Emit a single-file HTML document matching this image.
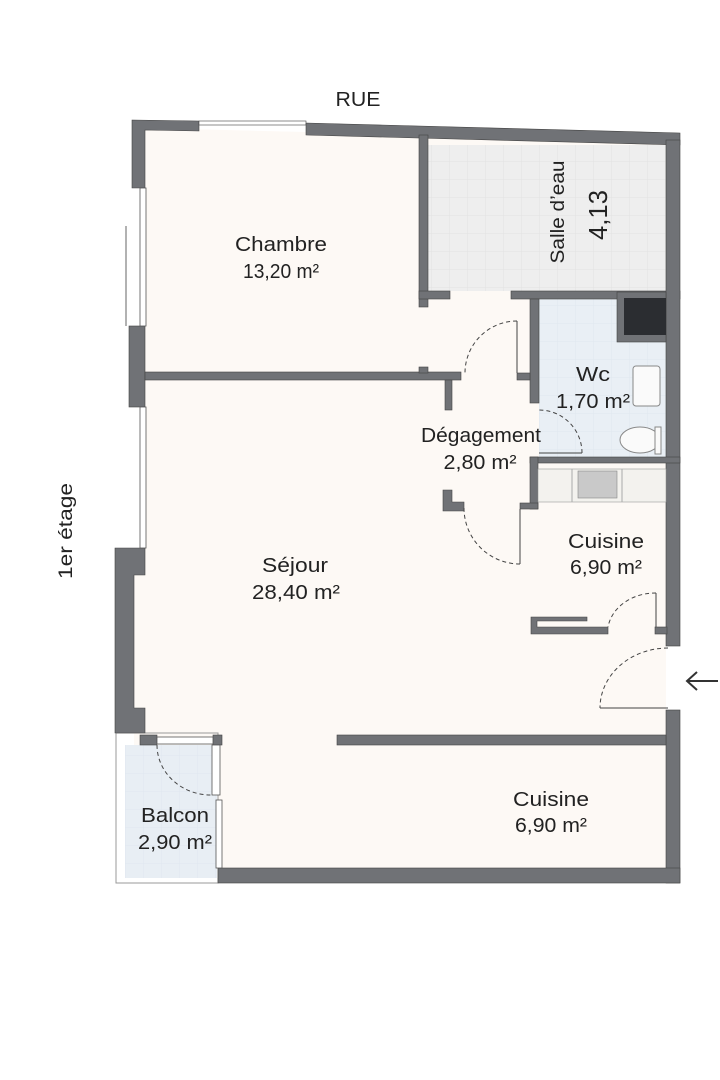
<!DOCTYPE html>
<html><head><meta charset="utf-8"><style>
html,body{margin:0;padding:0;background:#fff}
svg{display:block}
text{font-family:"Liberation Sans","DejaVu Sans",sans-serif;fill:#222}
</style></head><body>
<svg width="720" height="1080" viewBox="0 0 720 1080">
<defs>
<pattern id="g" width="18" height="18" patternUnits="userSpaceOnUse"><path d="M18 0V18H0" fill="none" stroke="#e2e2e2" stroke-width="1"/></pattern>
<pattern id="gb" width="18" height="18" patternUnits="userSpaceOnUse"><path d="M18 0V18H0" fill="none" stroke="#dfe7ef" stroke-width="1"/></pattern>
</defs>
<polygon points="145,128 666,141 666,868 218,868 218,745 134,745 134,575 145,575" fill="#fdf9f5"/>
<rect x="428" y="145" width="238" height="146" fill="#eeeeee"/>
<rect x="428" y="145" width="238" height="146" fill="url(#g)"/>
<rect x="539" y="299" width="127" height="158" fill="#e9eff5"/>
<rect x="539" y="299" width="127" height="158" fill="url(#gb)"/>
<rect x="125" y="745" width="92" height="133" fill="#e8eef4"/>
<rect x="125" y="745" width="92" height="133" fill="url(#gb)"/>
<rect x="116" y="733" width="102" height="150" fill="none" stroke="#999" stroke-width="1"/>
<g fill="#707276" stroke="#444" stroke-width="0.6">
<polygon points="132,120 199,121 199,131 145,130 145,188 132,188"/>
<rect x="199" y="121" width="107" height="4" fill="#fff"/>
<polygon points="306,123 680,133 680,145 306,135"/>
<rect x="129" y="326" width="16" height="81"/>
<polygon points="115,548 145,548 145,575 134,575 134,708 145,708 145,733 115,733"/>
<rect x="145" y="372" width="316" height="8"/>
<rect x="419" y="367" width="9" height="6"/>
<rect x="445" y="380" width="7" height="30"/>
<rect x="419" y="135" width="9" height="172"/>
<rect x="419" y="291" width="31" height="8"/>
<rect x="511" y="291" width="169" height="8"/>
<rect x="666" y="140" width="14" height="506"/>
<rect x="666" y="710" width="14" height="173"/>
<rect x="530" y="299" width="9" height="104"/>
<rect x="517" y="373" width="13" height="7"/>
<rect x="530" y="457" width="150" height="6"/>
<rect x="530" y="457" width="8" height="52"/>
<rect x="520" y="503" width="18" height="6"/>
<rect x="617" y="292" width="49" height="50"/>
<polygon points="443,490 452,490 452,502 464,502 464,511 443,511"/>
<polygon points="531,617 587,617 587,621 537,621 537,627 608,627 608,634 531,634"/>
<rect x="655" y="627" width="12" height="7"/>
<rect x="337" y="735" width="329" height="10"/>
<rect x="218" y="868" width="462" height="15"/>
<rect x="140" y="735" width="17" height="10"/>
<rect x="213" y="735" width="9" height="10"/>
</g>
<rect x="624" y="298" width="42" height="37" fill="#2b2d31"/>
<g fill="#fff" stroke="#555" stroke-width="0.8">
<rect x="140" y="188" width="6" height="138"/>
<rect x="140" y="407" width="6" height="141"/>
<rect x="157" y="737" width="56" height="7"/>
<rect x="212" y="745" width="8" height="50"/>
<rect x="216" y="800" width="6" height="68"/>
</g>
<line x1="126" y1="226" x2="126" y2="326" stroke="#666" stroke-width="1"/>
<rect x="538" y="469" width="128" height="33" fill="#f3f2ee" stroke="#999" stroke-width="0.6"/>
<rect x="578" y="471" width="39" height="27" fill="#c9c9c9" stroke="#888" stroke-width="0.6"/>
<line x1="572" y1="469" x2="572" y2="502" stroke="#aaa"/><line x1="622" y1="469" x2="622" y2="502" stroke="#aaa"/>
<rect x="633" y="366" width="27" height="40" rx="3" fill="#fafafa" stroke="#888"/>
<ellipse cx="640" cy="440" rx="20" ry="13" fill="#fafafa" stroke="#888"/>
<rect x="655" y="427" width="6" height="27" fill="#fafafa" stroke="#888"/>
<g fill="none" stroke="#444" stroke-width="1">
<line x1="517" y1="321" x2="517" y2="373"/>
<path d="M517 321 A52 52 0 0 0 465 373" stroke-dasharray="4 3"/>
<line x1="539" y1="453" x2="582" y2="453"/>
<path d="M582 453 A43 43 0 0 0 539 410" stroke-dasharray="4 3"/>
<line x1="520" y1="509" x2="520" y2="564"/>
<path d="M520 564 A56 56 0 0 1 464 508" stroke-dasharray="4 3"/>
<line x1="656" y1="593" x2="656" y2="627"/>
<path d="M656 593 A48 40 0 0 0 608 627" stroke-dasharray="4 3"/>
<line x1="600" y1="708" x2="668" y2="708"/>
<path d="M668 648 A68 60 0 0 0 600 708" stroke-dasharray="4 3"/>
<path d="M157 745 A54 50 0 0 0 211 795" stroke-dasharray="4 3"/>
</g>
<g stroke="#333" stroke-width="2" fill="none"><line x1="687" y1="681" x2="718" y2="681"/><polyline points="697,672 687,681 697,690"/></g>
<g font-size="20" text-anchor="middle">
<text x="358" y="106" textLength="45" lengthAdjust="spacingAndGlyphs">RUE</text>
<text x="281" y="251" textLength="92" lengthAdjust="spacingAndGlyphs">Chambre</text><text x="281" y="278" textLength="76" lengthAdjust="spacingAndGlyphs">13,20 m²</text>
<text x="481" y="442" textLength="120" lengthAdjust="spacingAndGlyphs">Dégagement</text><text x="480" y="469" textLength="73" lengthAdjust="spacingAndGlyphs">2,80 m²</text>
<text x="593" y="381" textLength="34" lengthAdjust="spacingAndGlyphs">Wc</text><text x="593" y="408" textLength="74" lengthAdjust="spacingAndGlyphs">1,70 m²</text>
<text x="606" y="548" textLength="76" lengthAdjust="spacingAndGlyphs">Cuisine</text><text x="606" y="574" textLength="72" lengthAdjust="spacingAndGlyphs">6,90 m²</text>
<text x="295" y="572" textLength="66" lengthAdjust="spacingAndGlyphs">Séjour</text><text x="296" y="599" textLength="88" lengthAdjust="spacingAndGlyphs">28,40 m²</text>
<text x="551" y="806" textLength="76" lengthAdjust="spacingAndGlyphs">Cuisine</text><text x="551" y="832" textLength="72" lengthAdjust="spacingAndGlyphs">6,90 m²</text>
<text x="175" y="822" textLength="68" lengthAdjust="spacingAndGlyphs">Balcon</text><text x="175" y="849" textLength="74" lengthAdjust="spacingAndGlyphs">2,90 m²</text>
<text transform="translate(564,212) rotate(-90)" font-size="19" textLength="103" lengthAdjust="spacingAndGlyphs">Salle d’eau</text>
<text transform="translate(607,215) rotate(-90)" font-size="26" textLength="50" lengthAdjust="spacingAndGlyphs">4,13</text>
<text transform="translate(72,531) rotate(-90)" font-size="19" textLength="96" lengthAdjust="spacingAndGlyphs">1er étage</text>
</g>
</svg>
</body></html>
